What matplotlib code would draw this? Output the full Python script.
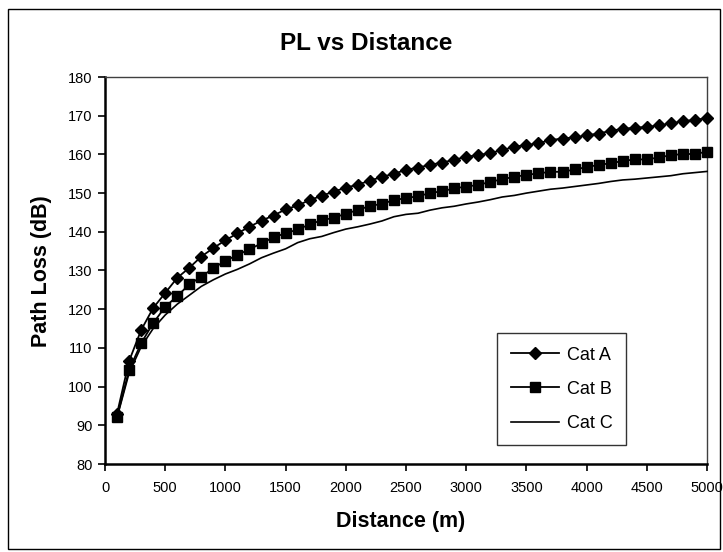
import matplotlib
matplotlib.use("Agg")
import matplotlib.pyplot as plt
from matplotlib.patches import Rectangle

distance = list(range(100, 5001, 100))

cat_a = [93.0, 106.6, 114.6, 120.3, 124.2, 128.1, 130.7, 133.6, 135.8, 137.8,
         139.6, 141.3, 142.9, 144.2, 145.8, 146.8, 148.2, 149.3, 150.4, 151.4,
         152.2, 153.2, 154.2, 155.0, 156.0, 156.6, 157.3, 157.9, 158.6, 159.4,
         159.8, 160.4, 161.1, 162.0, 162.4, 162.9, 163.7, 164.1, 164.4, 164.9,
         165.4, 166.1, 166.6, 166.9, 167.1, 167.5, 168.0, 168.6, 168.9, 169.4]

cat_b = [92.2, 104.3, 111.2, 116.4, 120.6, 123.4, 126.4, 128.4, 130.6, 132.5,
         134.0, 135.5, 137.0, 138.6, 139.6, 140.6, 141.9, 143.0, 143.6, 144.7,
         145.6, 146.7, 147.2, 148.2, 148.7, 149.2, 150.0, 150.5, 151.2, 151.7,
         152.1, 152.9, 153.6, 154.2, 154.7, 155.1, 155.5, 155.5, 156.1, 156.7,
         157.3, 157.7, 158.3, 158.7, 158.7, 159.2, 159.8, 160.1, 160.1, 160.7]

cat_c = [92.0, 103.5, 110.3, 115.0, 118.5, 121.3, 123.6, 125.9, 127.6, 129.1,
         130.3, 131.7, 133.3, 134.5, 135.6, 137.2, 138.2, 138.8, 139.8, 140.7,
         141.3, 142.0, 142.8, 143.9, 144.5, 144.8, 145.6, 146.2, 146.6, 147.2,
         147.7, 148.3, 149.0, 149.4, 150.0, 150.5, 151.0, 151.3, 151.7, 152.1,
         152.5, 153.0, 153.4, 153.6, 153.9, 154.2, 154.5, 155.0, 155.3, 155.6]

series_names = ["Cat A", "Cat B", "Cat C"]
x_ticks = list(range(0, 5001, 500))
y_ticks = list(range(80, 181, 10))

plt.rcParams['font.family'] = ['Liberation Sans', 'DejaVu Sans']

fig = plt.figure(figsize=(7.23, 5.52), dpi=100)
fig.patch.set_facecolor('white')
fig.patches.append(Rectangle((8 / 723, 3 / 552), 712 / 723, 540 / 552,
                             transform=fig.transFigure, fill=False,
                             edgecolor='black', linewidth=1.0))

ax = fig.add_axes([105 / 723, (552 - 464) / 552, 602 / 723, 387 / 552])

ax.plot(distance, cat_a, color='black', linewidth=1.3, marker='D',
        markersize=6.5, label=series_names[0], clip_on=False, zorder=3)
ax.plot(distance, cat_b, color='black', linewidth=1.3, marker='s',
        markersize=7.8, label=series_names[1], clip_on=False, zorder=3)
ax.plot(distance, cat_c, color='black', linewidth=1.2,
        label=series_names[2], clip_on=False, zorder=3)

ax.set_xlim(0, 5000)
ax.set_ylim(80, 180)
ax.set_xticks(x_ticks)
ax.set_yticks(y_ticks)
ax.set_xticklabels([str(t) for t in x_ticks])
ax.set_yticklabels([str(t) for t in y_ticks])
ax.tick_params(axis='both', direction='out', length=5, width=1.2,
               labelsize=10.5, color='black')
ax.tick_params(axis='x', pad=7)
ax.tick_params(axis='y', pad=4)

for side in ['left', 'bottom']:
    ax.spines[side].set_linewidth(1.8)
    ax.spines[side].set_color('black')
for side in ['top', 'right']:
    ax.spines[side].set_linewidth(1.0)
    ax.spines[side].set_color('#404040')

fig.text(366 / 723, 1 - 44 / 552, "PL vs Distance", ha='center', va='center',
         fontsize=17.5, fontweight='bold')
fig.text(401 / 723, 1 - 521 / 552, "Distance (m)", ha='center', va='center',
         fontsize=15.5, fontweight='bold')
fig.text(42 / 723, 1 - 271 / 552, "Path Loss (dB)", ha='center', va='center',
         fontsize=15.5, fontweight='bold', rotation=90)

leg = ax.legend(loc='upper left', bbox_to_anchor=((497 - 105) / 602, 1 - (333 - 77) / 387),
                frameon=True, fancybox=False, edgecolor='black', fontsize=13,
                handlelength=2.7, handletextpad=0.4, labelspacing=0.95,
                borderpad=0.75, borderaxespad=0)
leg.get_frame().set_linewidth(1.0)

fig.savefig("out.png", dpi=100, facecolor='white')
